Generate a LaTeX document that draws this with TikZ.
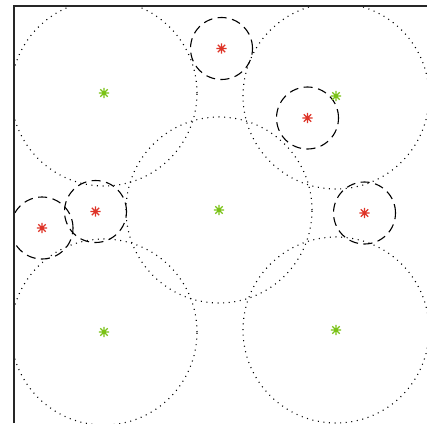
\documentclass[tikz,border=0pt]{standalone}
\usepackage{tikz}

\definecolor{hitgreen}{RGB}{122,194,22}
\definecolor{hitred}{RGB}{222,52,40}

\begin{document}
\begin{tikzpicture}[
  x=1pt, y=-1pt,
  axis/.style={draw=black!85, line width=1.3pt},
  bigring/.style={circle, draw=black, line width=1.1pt, dash pattern=on 1pt off 4.6pt, minimum size=186pt, inner sep=0pt},
  smallring/.style={circle, draw=black, line width=1.1pt, dash pattern=on 9pt off 5.5pt, minimum size=62pt, inner sep=0pt},
  ast/.style={minimum size=12pt, inner sep=0pt, path picture={
    \draw[#1, line width=1.3pt] (path picture bounding box.center)
      +(0:5.2pt) -- +(180:5.2pt) +(90:5.2pt) -- +(270:5.2pt)
      +(45:5.2pt) -- +(225:5.2pt) +(135:5.2pt) -- +(315:5.2pt);}}
]
  \useasboundingbox (0,0) rectangle (427,423);
  \begin{scope}
    \clip (14,6) rectangle (427,423);
    % large dotted circles, green centres
    \node[bigring] (gNW) at (104,93) {};
    \node[bigring] (gNE) at (336,96) {};
    \node[bigring] (gC) at (219,210) {};
    \node[bigring] (gSW) at (104,332) {};
    \node[bigring] (gSE) at (336,330) {};
    % small dashed circles, red centres
    \node[smallring] (rN) at (221.5,48.5) {};
    \node[smallring] (rNE) at (307.5,118) {};
    \node[smallring] (rW) at (95.5,211.5) {};
    \node[smallring] (rWW) at (42,228) {};
    \node[smallring] (rE) at (364.5,213) {};
    % markers
    \foreach \p in {gNW,gNE,gC,gSW,gSE}
      \node[ast=hitgreen] (m\p) at (\p) {};
    \foreach \p in {rN,rNE,rW,rWW,rE}
      \node[ast=hitred] (m\p) at (\p) {};
  \end{scope}
  \draw[axis] (14,423) -- (14,6) -- (427,6);
\end{tikzpicture}
\end{document}
